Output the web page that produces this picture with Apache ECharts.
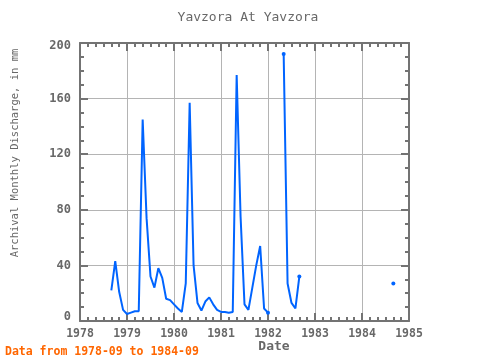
<!DOCTYPE html>
<html><head><meta charset="utf-8">
<script src="https://cdn.jsdelivr.net/npm/echarts@6/dist/echarts.min.js"></script>
<style>html,body{margin:0;padding:0;background:#fff}#c{width:480px;height:360px}</style>
</head><body><div id="c"></div>
<script>
const chartTitle = 'Yavzora At Yavzora';
const yAxisTitle = 'Archival Monthly Discharge, in mm';
const xAxisTitle = 'Date';
const footnote = 'Data from 1978-09 to 1984-09';

const months = [
  '1978-09','1978-10','1978-11','1978-12',
  '1979-01','1979-02','1979-03','1979-04','1979-05','1979-06','1979-07','1979-08','1979-09','1979-10','1979-11','1979-12',
  '1980-01','1980-02','1980-03','1980-04','1980-05','1980-06','1980-07','1980-08','1980-09','1980-10','1980-11','1980-12',
  '1981-01','1981-02','1981-03','1981-04','1981-05','1981-06','1981-07','1981-08','1981-09','1981-10','1981-11','1981-12',
  '1982-01','1982-02','1982-03','1982-04','1982-05','1982-06','1982-07','1982-08','1982-09','1982-10','1982-11','1982-12',
  '1983-01','1983-02','1983-03','1983-04','1983-05','1983-06','1983-07','1983-08','1983-09','1983-10','1983-11','1983-12',
  '1984-01','1984-02','1984-03','1984-04','1984-05','1984-06','1984-07','1984-08','1984-09'
];
const discharge = [
  22, 43, 21, 8,
  5, 6, 7, 7, 145, 74, 32, 24, 38, 31, 16, 15,
  12, 9, 6.5, 27, 157, 40, 13, 7.5, 14, 17, 12, 8,
  6.5, 6.5, 6, 6.5, 177, 75, 12, 8, 24, 40, 54, 9,
  6, null, null, null, 192, 27, 13, 9, 32, null, null, null,
  null, null, null, null, null, null, null, null, null, null, null, null,
  null, null, null, null, null, null, null, null, 27
];
const xTickYears = [1978, 1979, 1980, 1981, 1982, 1983, 1984, 1985];
const yTickValues = [0, 40, 80, 120, 160, 200];

const font = 'DejaVu Sans Mono';
const axisGray = '#737373';
const textGray = '#686868';

const data = months.map((m, i) => {
  const [yr, mo] = m.split('-').map(Number);
  const v = discharge[i];
  const prev = i > 0 ? discharge[i - 1] : 0;
  const next = i < discharge.length - 1 ? discharge[i + 1] : null;
  const isEnd = v != null && (prev == null || next == null);
  return { value: [yr + (mo - 1) / 12, v == null ? '-' : v], symbolSize: isEnd ? 4 : 0 };
});

const xMin = xTickYears[0], xMax = xTickYears[xTickYears.length - 1];
const yMin = yTickValues[0], yMax = yTickValues[yTickValues.length - 1];
const yStep = yTickValues[1] - yTickValues[0];

const tickStyle = { lineStyle: { color: axisGray, width: 2 } };
function xAxisDef(pos, main) {
  return {
    type: 'value', position: pos, min: xMin, max: xMax, interval: 1,
    axisLine: { show: true, onZero: false, lineStyle: { color: axisGray, width: 2 } },
    axisTick: Object.assign({ show: true, inside: true, length: 8 }, tickStyle),
    minorTick: Object.assign({ show: true, splitNumber: 6, length: 4 }, tickStyle),
    splitLine: { show: main, lineStyle: { color: '#b4b4b4', width: 1 } },
    minorSplitLine: { show: false },
    axisLabel: main ? { show: true, color: textGray, fontFamily: font, fontWeight: 'bold', fontSize: 11.5, margin: 7, formatter: v => String(v) } : { show: false }
  };
}
function yAxisDef(pos, main) {
  return {
    type: 'value', position: pos, min: yMin, max: yMax, interval: yStep,
    axisLine: { show: true, onZero: false, lineStyle: { color: axisGray, width: 2 } },
    axisTick: Object.assign({ show: true, inside: true, length: 8 }, tickStyle),
    minorTick: Object.assign({ show: true, splitNumber: 4, length: 4 }, tickStyle),
    splitLine: { show: main, lineStyle: { color: '#b4b4b4', width: 1 } },
    axisLabel: main ? {
      show: true, color: textGray, fontFamily: font, fontWeight: 'bold', fontSize: 12, margin: 9,
      formatter: v => v === yMin ? '{lo|' + v + '}' : (v === yMax ? '{hi|' + v + '}' : String(v)),
      rich: {
        lo: { color: textGray, fontFamily: font, fontWeight: 'bold', fontSize: 12, padding: [0, 0, 8, 0] },
        hi: { color: textGray, fontFamily: font, fontWeight: 'bold', fontSize: 12, padding: [5, 0, 0, 0] }
      }
    } : { show: false }
  };
}

const chart = echarts.init(document.getElementById('c'), null, { renderer: 'canvas' });
chart.setOption({
  animation: false,
  backgroundColor: '#ffffff',
  grid: { left: 80, right: 71, top: 43, bottom: 39, containLabel: false },
  xAxis: [xAxisDef('bottom', true), xAxisDef('top', false)],
  yAxis: [yAxisDef('left', true), yAxisDef('right', false)],
  series: [{
    type: 'line', xAxisIndex: 0, yAxisIndex: 0, data: data,
    showSymbol: true, symbol: 'circle', connectNulls: false,
    lineStyle: { color: '#0064ff', width: 2 },
    itemStyle: { color: '#0064ff' },
    z: 5
  }],
  graphic: [
    { type: 'text', x: 248, y: 18, style: { text: chartTitle, font: '13px "' + font + '"', fill: textGray, align: 'center', verticalAlign: 'middle' } },
    { type: 'text', x: 274, y: 347, style: { text: xAxisTitle, font: 'bold 13px "' + font + '"', fill: textGray, align: 'center', verticalAlign: 'middle' } },
    { type: 'text', x: 15, y: 153, rotation: Math.PI / 2, style: { text: yAxisTitle, font: '10.5px "' + font + '"', fill: textGray, align: 'center', verticalAlign: 'middle' } },
    { type: 'text', x: 5, y: 352, style: { text: footnote, font: 'bold 11.5px "' + font + '"', fill: '#ff6600', align: 'left', verticalAlign: 'middle' } }
  ]
});
</script>
</body></html>
